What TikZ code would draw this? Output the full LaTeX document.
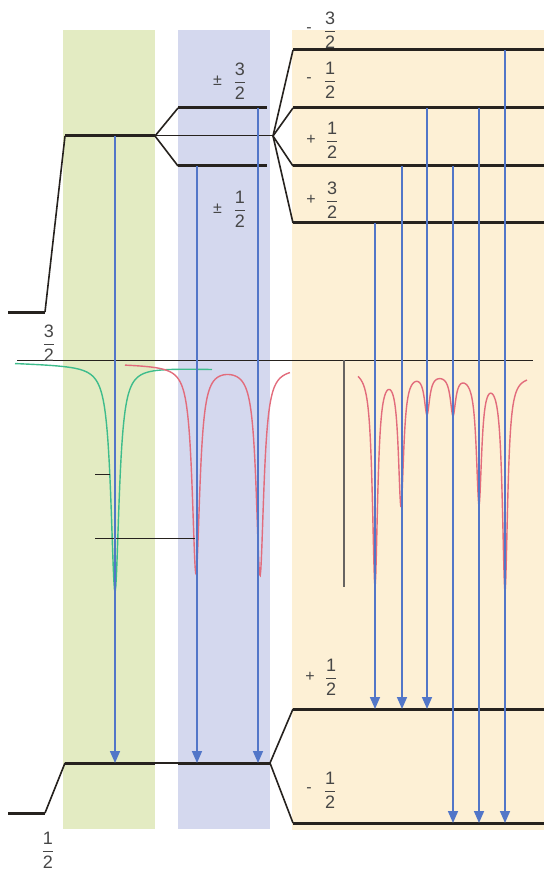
\documentclass[tikz,border=0pt]{standalone}
\usepackage{fontspec}
\setmainfont{Liberation Sans}
\usetikzlibrary{positioning,arrows.meta}
\definecolor{grnBg}{RGB}{227,235,194}
\definecolor{bluBg}{RGB}{212,216,238}
\definecolor{orgBg}{RGB}{253,240,213}
\definecolor{arrBlu}{RGB}{82,118,200}
\definecolor{lvlInk}{RGB}{38,34,30}
\definecolor{grnCv}{RGB}{62,188,140}
\definecolor{redCv}{RGB}{226,108,124}
\definecolor{labInk}{RGB}{70,70,70}
\newcommand{\lvfrac}[2]{$\displaystyle\frac{\mbox{#1}}{\mbox{#2}}$}

\begin{document}
\begin{tikzpicture}[x=0.5pt,y=-0.5pt,
    lvlTk/.style={line width=1.5pt,draw=lvlInk},
    lvlTn/.style={line width=0.8pt,draw=lvlInk},
    lvlHr/.style={line width=0.5pt,draw=lvlInk},
    arrLn/.style={->,>={Triangle[length=6pt,width=5pt]},line width=0.8pt,draw=arrBlu},
    fracLab/.style={inner sep=0pt,text=labInk,font=\fontsize{9}{10}\selectfont},
    sgnLab/.style={inner sep=0pt,text=labInk,font=\footnotesize},
    grnCrv/.style={draw=grnCv,line width=0.7pt},
    redCrv/.style={draw=redCv,line width=0.7pt},
    declare function={lor(\d,\w)=1/(1+(\d/\w)^2);},
]
\useasboundingbox (0,0) rectangle (544,877);
% panels
\fill[grnBg] (63,30) rectangle (155,829);
\fill[bluBg] (178,30) rectangle (270,829);
\fill[orgBg] (292,30) rectangle (544,830);
% spectra
\draw[grnCrv] plot[domain=15:212,samples=300] (\x,{363+0.03*(\x-15)+226*lor(\x-115,5)});
\draw[redCrv] plot[domain=125:290,samples=300] (\x,{364+0.02*(\x-125)+208*lor(\x-196,4.6)+208*lor(\x-260,4.6)});
\draw[redCrv] plot[domain=358:527,samples=400] (\x,{368+0.04*(\x-358)+215*lor(\x-375,3.2)+133*lor(\x-401,3.2)+40*lor(\x-427,3.2)+40*lor(\x-453,3.2)+128*lor(\x-479,3.2)+215*lor(\x-505,3.2)});
\coordinate (sL) at (17,360);
\coordinate (sR) at (533,360);
\draw[lvlHr] (sL) -- (sR);
\coordinate (vT) at (344,360);
\coordinate (vB) at (344,587);
\draw[lvlTn,draw=lvlInk!70] (vT) -- (vB);
\coordinate (k1) at (95,474);
\coordinate (k2) at (95,538);
\draw[lvlHr] (k1) -- ++(15,0);
\draw[lvlHr] (k2) -- ++(100,0);
% upper levels
\coordinate (rEdge) at (544,0);
\coordinate (g0) at (8,312);
\coordinate (g1) at (45,312);
\coordinate (gA) at (65,136);
\coordinate (gB) at (155,136);
\coordinate (bA) at (273,136);
\coordinate (bU) at (178,108);
\coordinate (bL) at (178,166);
\coordinate (o1) at (293,50);
\coordinate (o2) at (293,108);
\coordinate (o3) at (293,166);
\coordinate (o4) at (293,223);
\draw[lvlTk] (g0) -- (g1);
\draw[lvlTn] (g1) -- (gA);
\draw[lvlTk] (gA) -- (gB);
\draw[lvlHr] (gB) -- (bA);
\draw[lvlTn] (bU) -- (gB) -- (bL);
\draw[lvlTk] (bU) -- ++(89,0);
\draw[lvlTk] (bL) -- ++(89,0);
\foreach \lv in {o1,o2,o3,o4}{
  \draw[lvlTn] (bA) -- (\lv);
  \draw[lvlTk] (\lv) -- (\lv -| rEdge);
}
% lower levels
\coordinate (h0) at (8,813);
\coordinate (h1) at (45,813);
\coordinate (hA) at (65,763);
\coordinate (hB) at (155,763);
\coordinate (hC) at (178,763);
\coordinate (hD) at (270,763);
\coordinate (p1) at (293,709);
\coordinate (p2) at (293,823);
\draw[lvlTk] (h0) -- (h1);
\draw[lvlTn] (h1) -- (hA);
\draw[lvlTk] (hA) -- (hB);
\draw[lvlTn] (hB) -- (hC);
\draw[lvlTk] (hC) -- (hD);
\draw[lvlTn] (p1) -- (hD) -- (p2);
\draw[lvlTk] (p1) -- (p1 -| rEdge);
\draw[lvlTk] (p2) -- (p2 -| rEdge);
% transitions
\foreach \ax/\from/\to in {115/gA/hA,197/bL/hC,258/bU/hC,375/o4/p1,402/o3/p1,427/o2/p1,453/o3/p2,479/o2/p2,505/o1/p2}
  \draw[arrLn] (\ax,0 |- \from) -- (\ax,0 |- \to);
% labels
\node[fracLab] (fA) at (49,343) {\lvfrac{3}{2}};
\node[fracLab] (fB) at (48,850) {\lvfrac{1}{2}};
\node[fracLab] (fC) at (240,81) {\lvfrac{3}{2}};
\node[sgnLab,left=5pt of fC] (sC) {±};
\node[fracLab] (fD) at (240,209) {\lvfrac{1}{2}};
\node[sgnLab,left=5pt of fD] (sD) {±};
\node[fracLab] (fE) at (330,30) {\lvfrac{3}{2}};
\node[sgnLab,left=5pt of fE] (sE) {-};
\node[fracLab] (fF) at (330,80) {\lvfrac{1}{2}};
\node[sgnLab,left=5pt of fF] (sF) {-};
\node[fracLab] (fG) at (332,140) {\lvfrac{1}{2}};
\node[sgnLab,left=4pt of fG] (sG) {+};
\node[fracLab] (fH) at (332,200) {\lvfrac{3}{2}};
\node[sgnLab,left=4pt of fH] (sH) {+};
\node[fracLab] (fI) at (331,677) {\lvfrac{1}{2}};
\node[sgnLab,left=4pt of fI] (sI) {+};
\node[fracLab] (fJ) at (330,790) {\lvfrac{1}{2}};
\node[sgnLab,left=5pt of fJ] (sJ) {-};
\end{tikzpicture}
\end{document}
